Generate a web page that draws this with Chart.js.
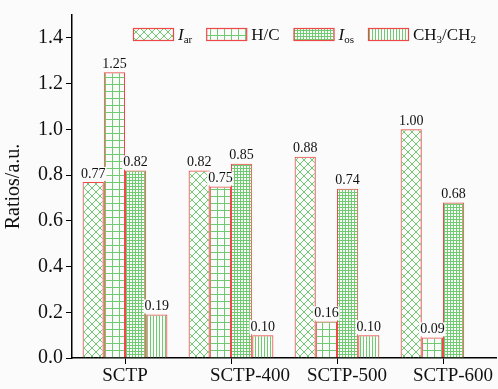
<!DOCTYPE html>
<html>
<head>
<meta charset="utf-8">
<script src="https://cdn.jsdelivr.net/npm/chart.js@4"></script>
<style>
  html, body { margin: 0; padding: 0; background: #fbfbfb; }
  #wrap { width: 498px; height: 389px; }
</style>
</head>
<body>
<div id="wrap"><canvas id="ratioChart" width="498" height="389"></canvas></div>
<script>
  const categories = ['SCTP', 'SCTP-400', 'SCTP-500', 'SCTP-600'];
  const iarValues = [0.77, 0.82, 0.88, 1.00];
  const hcValues = [1.25, 0.75, 0.16, 0.09];
  const iosValues = [0.82, 0.85, 0.74, 0.68];
  const ch3Values = [0.19, 0.10, 0.10, null];
  const yTicks = [0, 0.2, 0.4, 0.6, 0.8, 1.0, 1.2, 1.4];

  const GREEN = '#6fcb6f';
  const RED = '#f04848';
  const FONT = '"Liberation Serif", "DejaVu Serif", serif';
  // the source figure nudges some category labels to the right
  const labelShift = [0, 19, 10, 10];

  // hatch fills
  function makePattern(kind) {
    const c = document.createElement('canvas');
    const ctx = c.getContext('2d');
    let s = 4;
    if (kind === 'cross') s = 8;
    if (kind === 'grid') s = 7;
    if (kind === 'dense') s = 3;
    if (kind === 'vline') s = 3;
    c.width = s; c.height = s;
    ctx.strokeStyle = GREEN;
    ctx.lineWidth = 1;
    ctx.beginPath();
    if (kind === 'cross') {
      ctx.moveTo(0, 0); ctx.lineTo(s, s);
      ctx.moveTo(s, 0); ctx.lineTo(0, s);
    } else if (kind === 'vline') {
      ctx.moveTo(0.5, 0); ctx.lineTo(0.5, s);
    } else {
      ctx.moveTo(0.5, 0); ctx.lineTo(0.5, s);
      ctx.moveTo(0, 0.5); ctx.lineTo(s, 0.5);
    }
    ctx.stroke();
    return ctx.createPattern(c, 'repeat');
  }

  const legendItems = [
    { main: 'I', sub: 'ar', italic: true },
    { main: 'H/C' },
    { main: 'I', sub: 'os', italic: true },
    { parts: [['CH', false], ['3', true], ['/CH', false], ['2', true]] }
  ];

  const patterns = [makePattern('cross'), makePattern('grid'), makePattern('dense'), makePattern('vline')];

  function ds(label, data, i) {
    return {
      label: label,
      data: data,
      backgroundColor: patterns[i],
      borderColor: RED,
      borderWidth: 1,
      categoryPercentage: 0.8,
      barPercentage: 1.0
    };
  }

  // value labels above bars
  const valueLabels = {
    id: 'valueLabels',
    afterDatasetsDraw(chart) {
      const ctx = chart.ctx;
      ctx.save();
      ctx.font = '14px ' + FONT;
      ctx.textAlign = 'center';
      ctx.textBaseline = 'bottom';
      chart.data.datasets.forEach((d, i) => {
        chart.getDatasetMeta(i).data.forEach((bar, j) => {
          const v = d.data[j];
          if (v === null) return;
          const txt = v.toFixed(2);
          const w = ctx.measureText(txt).width;
          ctx.fillStyle = '#fbfbfb';
          ctx.fillRect(bar.x - w / 2 - 1, bar.y - 15, w + 2, 14);
          ctx.fillStyle = '#111';
          ctx.fillText(txt, bar.x, bar.y - 1);
        });
      });
      ctx.restore();
    }
  };

  // category labels drawn by hand so they can be nudged
  const xLabels = {
    id: 'xLabels',
    afterDraw(chart) {
      const ctx = chart.ctx;
      const xs = chart.scales.x;
      ctx.save();
      ctx.font = '19px ' + FONT;
      ctx.fillStyle = '#111';
      ctx.textAlign = 'center';
      ctx.textBaseline = 'top';
      categories.forEach((c, i) => {
        ctx.fillText(c, xs.getPixelForValue(i) + labelShift[i], xs.top + 9);
      });
      ctx.restore();
    }
  };

  // legend with subscripts
  const hatchLegend = {
    id: 'hatchLegend',
    afterDraw(chart) {
      const ctx = chart.ctx;
      ctx.save();
      let x = 133;
      const y = 28;
      const boxW = 40, boxH = 12;
      legendItems.forEach((item, i) => {
        ctx.fillStyle = patterns[i];
        ctx.fillRect(x, y, boxW, boxH);
        ctx.strokeStyle = RED;
        ctx.lineWidth = 1.2;
        ctx.strokeRect(x + 0.5, y + 0.5, boxW, boxH);
        x += boxW + 5;
        ctx.fillStyle = '#111';
        ctx.textBaseline = 'alphabetic';
        const base = y + 12;
        let parts = item.parts;
        if (!parts) {
          parts = [[item.main, false, item.italic]];
          if (item.sub) parts.push([item.sub, true]);
        }
        parts.forEach(p => {
          if (p[1]) {
            ctx.font = '11px ' + FONT;
            ctx.fillText(p[0], x, base + 3);
          } else {
            ctx.font = (p[2] ? 'italic ' : '') + '17px ' + FONT;
            ctx.fillText(p[0], x, base);
          }
          x += ctx.measureText(p[0]).width;
        });
        x += 14;
      });
      ctx.restore();
    }
  };

  const bg = {
    id: 'bg',
    beforeDraw(chart) {
      const ctx = chart.ctx;
      ctx.save();
      ctx.fillStyle = '#fbfbfb';
      ctx.fillRect(0, 0, chart.width, chart.height);
      ctx.restore();
    }
  };

  new Chart(document.getElementById('ratioChart'), {
    type: 'bar',
    data: {
      labels: categories,
      datasets: [
        ds('Iar', iarValues, 0),
        ds('H/C', hcValues, 1),
        ds('Ios', iosValues, 2),
        ds('CH3/CH2', ch3Values, 3)
      ]
    },
    options: {
      responsive: false,
      animation: false,
      layout: { padding: { top: 10, right: 2, left: 0, bottom: 0 } },
      plugins: { legend: { display: false }, tooltip: { enabled: false } },
      scales: {
        x: {
          grid: { display: true, drawOnChartArea: false, offset: false, tickLength: 6, color: '#000' },
          border: { display: true, color: '#000', width: 1.5 },
          ticks: { display: false },
          afterFit(s) { s.height = 31; }
        },
        y: {
          min: 0,
          max: 1.5,
          afterBuildTicks(s) { s.ticks = yTicks.map(v => ({ value: v })); },
          grid: { display: true, drawOnChartArea: false, tickLength: 6, color: '#000' },
          border: { display: true, color: '#000', width: 1.5 },
          ticks: { color: '#111', font: { family: FONT, size: 20 }, padding: 3, callback: v => v.toFixed(1) },
          title: { display: true, text: 'Ratios/a.u.', color: '#111', font: { family: FONT, size: 20 }, padding: 2 },
          afterFit(s) { s.width = 72; }
        }
      }
    },
    plugins: [bg, valueLabels, xLabels, hatchLegend]
  });
</script>
</body>
</html>
